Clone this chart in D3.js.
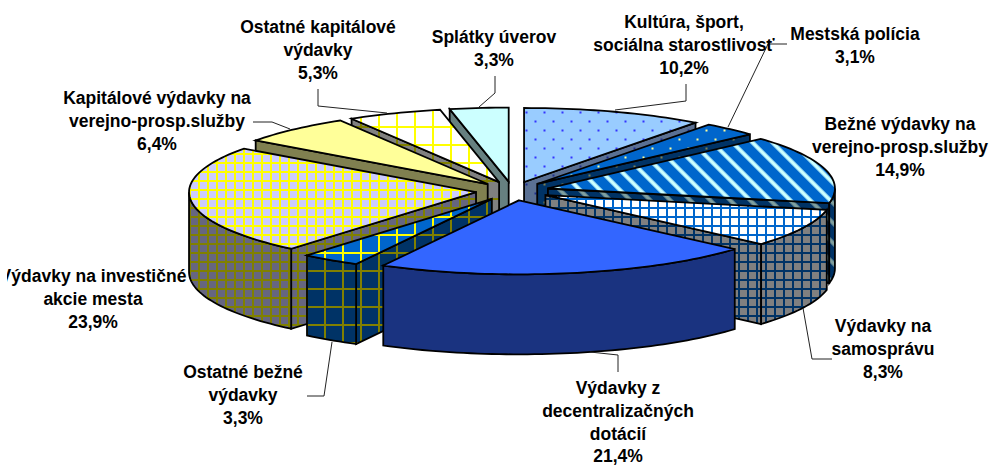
<!DOCTYPE html>
<html lang="en">
<head>
    <meta charset="UTF-8">
    <script src="https://d3js.org/d3.v7.min.js"></script>
    <style>
        html, body { margin: 0; height: 100%; overflow: hidden; background: #fff; }
        text { font-family: "Liberation Sans", Arial, sans-serif; font-weight: bold; font-size: 17.5px; fill: #000; }
    </style>
    <title>Výdavky</title>
</head>
<body>
<svg id="svg"></svg>
<script>
    // data, clockwise from 12 o'clock
    const categories = [
        ['Kultúra, šport,', 'sociálna starostlivosť'],
        ['Mestská polícia'],
        ['Bežné výdavky na', 'verejno-prosp.služby'],
        ['Výdavky na', 'samosprávu'],
        ['Výdavky z', 'decentralizačných', 'dotácií'],
        ['Ostatné bežné', 'výdavky'],
        ['Výdavky na investičné', 'akcie mesta'],
        ['Kapitálové výdavky na', 'verejno-prosp.služby'],
        ['Ostatné kapitálové', 'výdavky'],
        ['Splátky úverov']
    ];
    const values = [10.2, 3.1, 14.9, 8.3, 21.4, 3.3, 23.9, 6.4, 5.3, 3.3];

    // layout of labels and leader lines, same order as categories
    const labelCenter = [[684, 28], [855, 40], [900, 130], [883, 332], [618, 394], [243, 378], [93, 282], [157, 104], [318, 33], [494, 43]];
    const leaders = [
        [[686, 84], [686, 101], [615, 110]],
        [[787, 44], [768, 44], [728, 127]],
        [],
        [[832, 359], [812, 359], [803, 308]],
        [[618, 372], [618, 355], [590, 352]],
        [[307, 396], [324, 396], [332, 342]],
        [],
        [[253, 122], [272, 122], [290, 129]],
        [[318, 89], [318, 106], [387, 113]],
        [[495, 76], [495, 93], [479, 107]]
    ];

    // fill styles: [kind, top bg, top fg, wall bg, wall fg, spacing]
    const fills = [
        ['dots', '#99CCFF', '#3333FF', '#5A7093', '#1F2F8F', 9],
        ['dots', '#0066CC', '#FFFF99', '#003366', '#808050', 9],
        ['stripes', '#0066CC', '#CCFFFF', '#003366', '#7F9F9F', 20],
        ['grid', '#FFFFFF', '#0066CC', '#808080', '#003366', 9],
        ['solid', '#3366FF', null, '#1A3380', null, 0],
        ['grid', '#0066CC', '#FFFF00', '#003366', '#808000', 18],
        ['grid', '#CCCCFF', '#FFFF00', '#666680', '#808000', 9],
        ['solid', '#FFFF99', null, '#808050', null, 0],
        ['grid', '#FFFFFF', '#FFFF00', '#808080', '#808000', 18],
        ['solid', '#CCFFFF', null, '#668080', null, 0]
    ];

    const width = 991, height = 466;
    const svg = d3.select('#svg').attr('width', width).attr('height', height).style('display', 'block');
    const defs = svg.append('defs');

    const cx = 512.5, cy = 191, rx = 287, ry = 74, depth = 80, explode = 0.128;
    const xScale = d3.scaleLinear().domain([-1, 1]).range([cx - rx, cx + rx]);
    const yScale = d3.scaleLinear().domain([-1, 1]).range([cy + ry, cy - ry]);

    const pie = d3.pie().sort(null).value(d => d);
    const arcs = pie(values).map((d, i) => {
        d.index = i;
        d.mid = (d.startAngle + d.endAngle) / 2;
        d.ox = explode * Math.sin(d.mid);
        d.oy = explode * Math.cos(d.mid);
        return d;
    });

    // unit circle position of a slice, r 0 gives its apex
    const pt = (d, a, r, drop) => [
        xScale(d.ox + r * Math.sin(a)),
        yScale(d.oy + r * Math.cos(a)) + (drop ? depth : 0)
    ];
    const line = d3.line();

    function makePattern(id, kind, bg, fg, step) {
        if (kind === 'solid') return bg;
        const p = defs.append('pattern').attr('id', id).attr('patternUnits', 'userSpaceOnUse');
        if (kind === 'dots') {
            p.attr('width', step * 2).attr('height', step * 2);
            p.append('rect').attr('width', step * 2).attr('height', step * 2).attr('fill', bg);
            [[step / 2, step / 2], [step * 1.5, step * 1.5]].forEach(c => {
                p.append('rect').attr('x', c[0] - 1).attr('y', c[1] - 1).attr('width', 2).attr('height', 2).attr('fill', fg);
            });
        } else if (kind === 'stripes') {
            const w = step / Math.SQRT2;
            p.attr('width', w).attr('height', w).attr('patternTransform', 'rotate(-45)');
            p.append('rect').attr('width', w).attr('height', w).attr('fill', bg);
            p.append('rect').attr('x', w * 0.36).attr('width', w * 0.28).attr('height', w).attr('fill', fg);
        } else {
            p.attr('width', step).attr('height', step);
            p.append('rect').attr('width', step).attr('height', step).attr('fill', bg);
            p.append('rect').attr('x', 0).attr('width', 2).attr('height', step).attr('fill', fg);
            p.append('rect').attr('y', 0).attr('width', step).attr('height', 2).attr('fill', fg);
        }
        return `url(#${id})`;
    }

    const topFill = fills.map((f, i) => makePattern('top' + i, f[0], f[1], f[2], f[5]));
    const wallFill = fills.map((f, i) => makePattern('wall' + i, f[0], f[3], f[4], f[5]));

    const g = svg.append('g');
    const right = Math.PI / 2, back = Math.PI * 3 / 2;

    function drawFace(parent, pts, fill) {
        parent.append('path')
            .attr('d', line(pts) + 'Z')
            .attr('fill', fill)
            .attr('stroke', '#000')
            .attr('stroke-width', 1.8)
            .attr('stroke-linejoin', 'miter');
    }

    function sampleArc(d, a0, a1, drop) {
        const n = Math.max(2, Math.ceil((a1 - a0) * 40));
        return d3.range(n + 1).map(k => pt(d, a0 + (a1 - a0) * k / n, 1, drop));
    }

    // back slices first, nearer ones paint over them
    arcs.slice().sort((a, b) => d3.descending(Math.cos(a.mid), Math.cos(b.mid))).forEach(d => {
        const s = g.append('g');
        const i = d.index;
        // side walls facing the viewer
        if (d.endAngle < Math.PI) {
            drawFace(s, [pt(d, 0, 0), pt(d, d.endAngle, 1), pt(d, d.endAngle, 1, true), pt(d, 0, 0, true)], wallFill[i]);
        }
        if (d.startAngle > Math.PI) {
            drawFace(s, [pt(d, 0, 0), pt(d, d.startAngle, 1), pt(d, d.startAngle, 1, true), pt(d, 0, 0, true)], wallFill[i]);
        }
        // rim, only the part in front
        const a0 = Math.max(d.startAngle, right), a1 = Math.min(d.endAngle, back);
        if (a1 > a0) {
            drawFace(s, sampleArc(d, a0, a1, false).concat(sampleArc(d, a0, a1, true).reverse()), wallFill[i]);
        }
        // top
        drawFace(s, [pt(d, 0, 0)].concat(sampleArc(d, d.startAngle, d.endAngle, false)), topFill[i]);
    });

    // leaders
    svg.append('g').selectAll('path').data(leaders.filter(l => l.length)).join('path')
        .attr('d', d => line(d))
        .attr('fill', 'none')
        .attr('stroke', '#222')
        .attr('stroke-width', 1);

    // labels, the left one is cut by the chart border
    defs.append('clipPath').attr('id', 'area').append('rect')
        .attr('x', 7).attr('y', 0).attr('width', width - 7).attr('height', height);
    const fmt = v => d3.format('.1f')(v).replace('.', ',') + '%';
    const lineHeight = 22.8;
    const labels = svg.append('g').attr('clip-path', 'url(#area)');
    categories.forEach((name, i) => {
        const t = labels.append('text').attr('text-anchor', 'middle');
        name.concat(fmt(values[i])).forEach((txt, k) => {
            t.append('tspan')
                .attr('x', labelCenter[i][0])
                .attr('y', labelCenter[i][1] + k * lineHeight)
                .text(txt);
        });
    });
</script>
</body>
</html>
